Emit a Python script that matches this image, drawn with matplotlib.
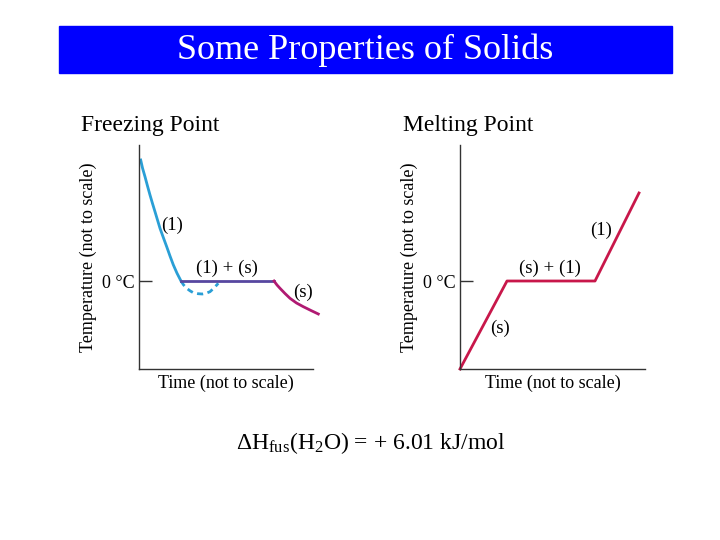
import matplotlib
matplotlib.use("Agg")
import matplotlib.pyplot as plt
from matplotlib.patches import Rectangle

plt.rcParams['font.family'] = ['Liberation Serif', 'DejaVu Serif']
plt.rcParams['mathtext.fontset'] = 'custom'
plt.rcParams['mathtext.rm'] = 'Liberation Serif'
plt.rcParams['mathtext.it'] = 'Liberation Serif:italic'

# freezing curve (time, temperature), arbitrary units, 0 = 0 degC
liq_t = [0.17, 0.35, 0.6, 0.85, 1.1, 1.35, 1.6, 1.85, 2.1, 2.45, 2.77, 3.1, 3.43, 3.8, 4.2]
liq_T = [12.1, 11.3, 10.43, 9.5, 8.6, 7.75, 6.93, 6.1, 5.27, 4.3, 3.43, 2.5, 1.62, 0.78, 0.0]
super_t = [4.2, 4.45, 4.77, 5.1, 5.43, 5.9, 6.33, 6.7, 7.1, 7.5, 7.93]
super_T = [0.0, -0.38, -0.73, -0.98, -1.17, -1.27, -1.3, -1.23, -1.07, -0.7, -0.23]
plat_t = [4.2, 13.5]
plat_T = [0.0, 0.0]
sol_t = [13.5, 13.8, 14.1, 14.6, 15.1, 15.75, 16.43, 17.2, 17.93]
sol_T = [0.0, -0.4, -0.73, -1.25, -1.73, -2.2, -2.57, -2.95, -3.3]

# melting curve
melt_t = [0.0, 4.7, 13.5, 17.9]
melt_T = [-8.8, 0.0, 0.0, 8.8]

fig = plt.figure(figsize=(7.2, 5.4), dpi=100)

# title bar
fig.patches.append(Rectangle((59/720, 1-73/540), 613/720, 47/540,
                             transform=fig.transFigure, color='#0000ff', zorder=0))
fig.text(365/720, 1-50/540, 'Some Properties of Solids', color='white',
         fontsize=26, ha='center', va='center')

fig.text(81/720, 1-125/540, 'Freezing Point', fontsize=17, ha='left', va='center')
fig.text(403/720, 1-125/540, 'Melting Point', fontsize=17, ha='left', va='center')


def setup(ax):
    ax.set_xlim(0, 17.4)
    ax.set_ylim(-8.8, 13.6)
    for s in ['top', 'right']:
        ax.spines[s].set_visible(False)
    for s in ['left', 'bottom']:
        ax.spines[s].set_linewidth(1.0)
        ax.spines[s].set_color('#333333')
    ax.set_xticks([])
    ax.set_yticks([0])
    ax.set_yticklabels(['0 °C'], fontsize=13)
    ax.tick_params(axis='y', direction='in', length=9.5, width=1.0, pad=3.5,
                   color='#333333')
    ax.set_xlabel('Time (not to scale)', fontsize=13, labelpad=4)
    ax.set_ylabel('Temperature (not to scale)', fontsize=13, labelpad=3)


ax1 = fig.add_axes([139/720, 1-369/540, 174/720, 224/540])
setup(ax1)
ax1.plot(liq_t, liq_T, color='#2a9fd6', lw=2, clip_on=False, solid_joinstyle='round')
ax1.plot(super_t, super_T, color='#2a9fd6', lw=2, ls=(0, (2.2, 1.6)), clip_on=False)
ax1.plot(plat_t, plat_T, color='#5747a0', lw=2, clip_on=False)
ax1.plot(sol_t, sol_T, color='#b01a72', lw=2, clip_on=False, solid_joinstyle='round')
ax1.text(3.3, 5.6, '(1)', fontsize=13.5, ha='center', va='center')
ax1.text(8.8, 1.3, '(1) + (s)', fontsize=13.5, ha='center', va='center')
ax1.text(16.4, -1.1, '(s)', fontsize=13.5, ha='center', va='center')

ax2 = fig.add_axes([460/720, 1-369/540, 185/720, 224/540])
setup(ax2)
ax2.set_xlim(0, 18.5)
ax2.plot(melt_t, melt_T, color='#c8174a', lw=2, clip_on=False)
ax2.text(4.0, -4.7, '(s)', fontsize=13.5, ha='center', va='center')
ax2.text(9.0, 1.3, '(s) + (1)', fontsize=13.5, ha='center', va='center')
ax2.text(14.1, 5.1, '(1)', fontsize=13.5, ha='center', va='center')

fig.text(371/720, 1-443/540, r'ΔH$_{\mathrm{fus}}$(H$_2$O) = + 6.01 kJ/mol',
         fontsize=17, ha='center', va='center')

fig.savefig('out.png', dpi=100)
